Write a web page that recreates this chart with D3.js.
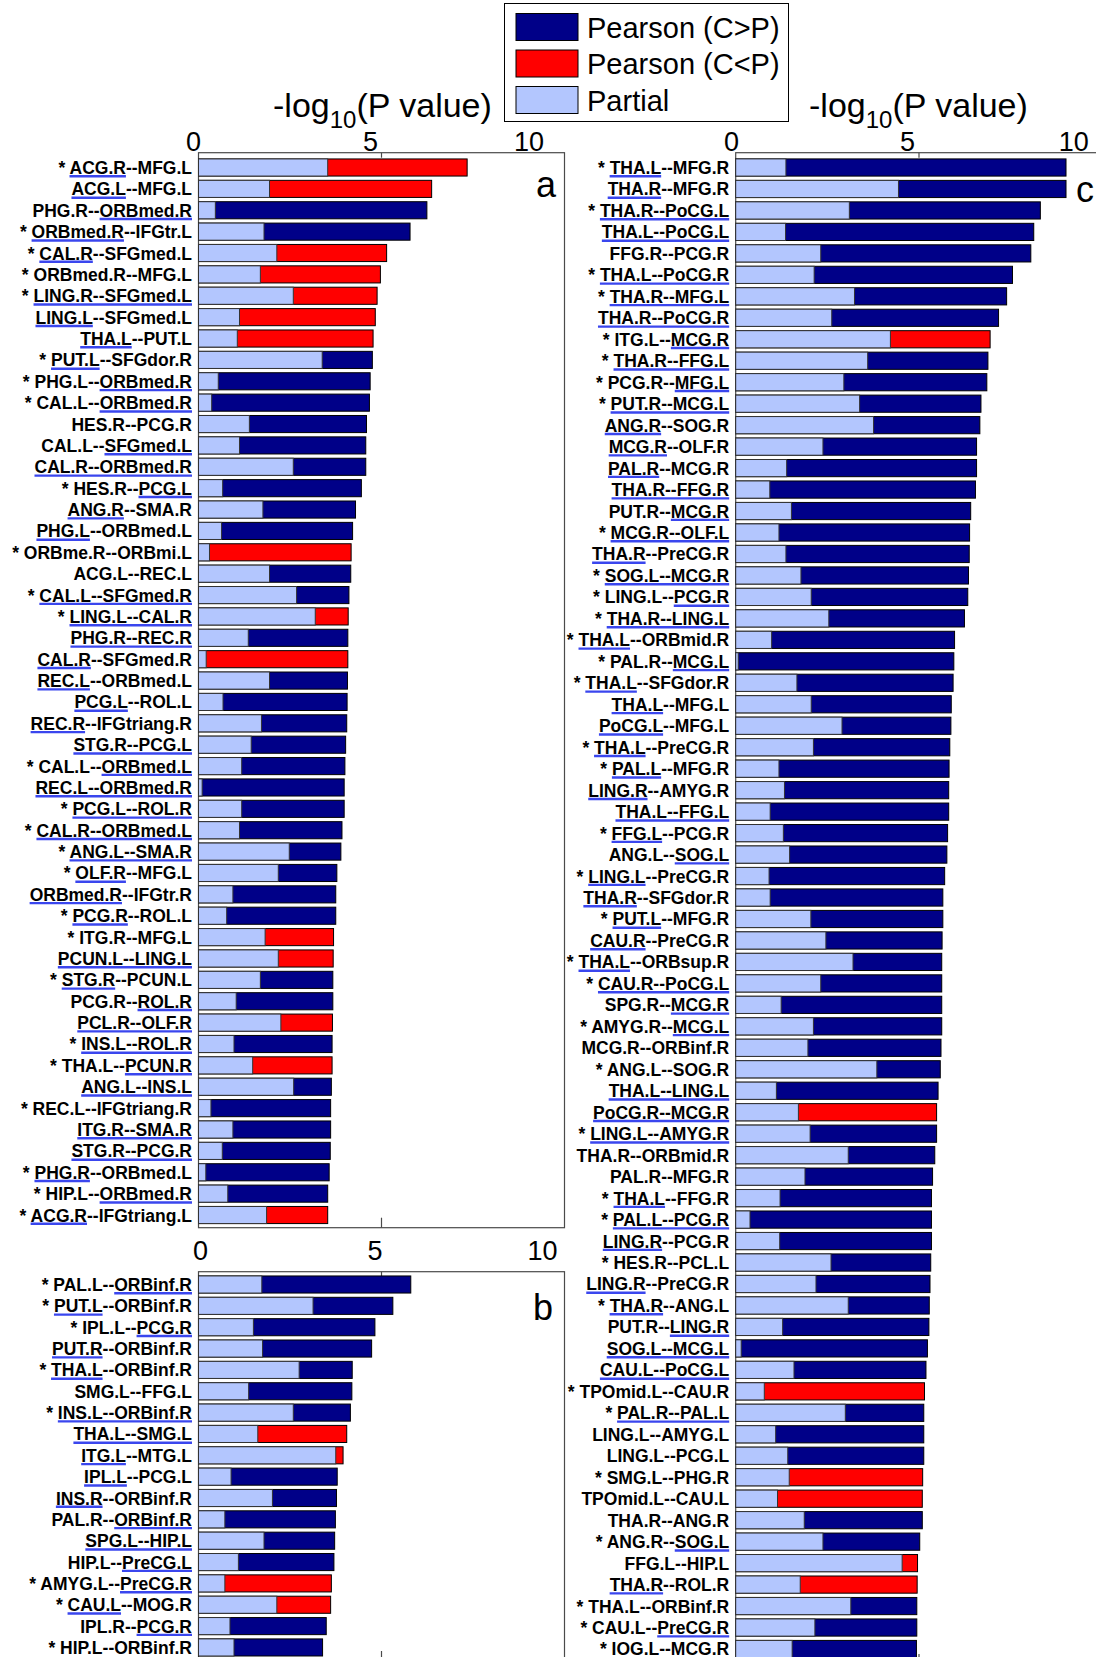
<!DOCTYPE html>
<html>
<head>
<meta charset="utf-8">
<script src="https://cdn.jsdelivr.net/npm/d3@7"></script>
<style>
  body { margin: 0; background: #fff; }
  svg { display: block; }
</style>
</head>
<body>
<svg id="chart" width="1096" height="1657"></svg>
<script>
// ---- Panel a: connections, -log10(P) for Pearson and partial correlation ----
// dir: 1 = Pearson (C>P), -1 = Pearson (C<P)
// under: 0 none, 1 first region, 2 second region, 3 whole pair
const aLabels = ["* ACG.R--MFG.L","ACG.L--MFG.L","PHG.R--ORBmed.R","* ORBmed.R--IFGtr.L","* CAL.R--SFGmed.L","* ORBmed.R--MFG.L","* LING.R--SFGmed.L","LING.L--SFGmed.L","THA.L--PUT.L","* PUT.L--SFGdor.R","* PHG.L--ORBmed.R","* CAL.L--ORBmed.R","HES.R--PCG.R","CAL.L--SFGmed.L","CAL.R--ORBmed.R","* HES.R--PCG.L","ANG.R--SMA.R","PHG.L--ORBmed.L","* ORBme.R--ORBmi.L","ACG.L--REC.L","* CAL.L--SFGmed.R","* LING.L--CAL.R","PHG.R--REC.R","CAL.R--SFGmed.R","REC.L--ORBmed.L","PCG.L--ROL.L","REC.R--IFGtriang.R","STG.R--PCG.L","* CAL.L--ORBmed.L","REC.L--ORBmed.R","* PCG.L--ROL.R","* CAL.R--ORBmed.L","* ANG.L--SMA.R","* OLF.R--MFG.L","ORBmed.R--IFGtr.R","* PCG.R--ROL.L","* ITG.R--MFG.L","PCUN.L--LING.L","* STG.R--PCUN.L","PCG.R--ROL.R","PCL.R--OLF.R","* INS.L--ROL.R","* THA.L--PCUN.R","ANG.L--INS.L","* REC.L--IFGtriang.R","ITG.R--SMA.R","STG.R--PCG.R","* PHG.R--ORBmed.L","* HIP.L--ORBmed.R","* ACG.R--IFGtriang.L"];
const aPearson = [7.34,6.37,6.24,5.78,5.14,4.97,4.88,4.83,4.77,4.75,4.69,4.67,4.59,4.57,4.57,4.45,4.29,4.21,4.17,4.16,4.11,4.09,4.08,4.08,4.07,4.06,4.05,4.02,4.00,3.98,3.98,3.92,3.89,3.78,3.75,3.75,3.69,3.68,3.67,3.67,3.66,3.65,3.65,3.63,3.61,3.61,3.60,3.57,3.53,3.53];
const aPartial = [3.53,1.94,0.46,1.79,2.14,1.69,2.59,1.12,1.06,3.38,0.54,0.36,1.39,1.12,2.59,0.66,1.76,0.63,0.30,1.94,2.68,3.19,1.36,0.21,1.94,0.67,1.72,1.44,1.18,0.10,1.18,1.12,2.48,2.18,0.94,0.77,1.82,2.18,1.69,1.03,2.25,0.97,1.48,2.60,0.34,0.94,0.65,0.20,0.80,1.86];
const aDir = [-1,-1,1,1,-1,-1,-1,-1,-1,1, 1,1,1,1,1,1,1,1,-1,1, 1,-1,1,-1,1,1,1,1,1,1, 1,1,1,1,1,1,-1,-1,1,1, -1,1,-1,1,1,1,1,1,1,-1];
const aUnder = [1,1,2,1,1,0,3,1,1,1, 2,2,0,2,3,2,1,1,0,0, 3,3,3,1,1,1,1,3,2,3, 3,3,3,1,1,1,0,3,1,2, 3,3,2,3,0,3,3,1,2,1];

// ---- Panel b ----
const bLabels = ["* PAL.L--ORBinf.R","* PUT.L--ORBinf.R","* IPL.L--PCG.R","PUT.R--ORBinf.R","* THA.L--ORBinf.R","SMG.L--FFG.L","* INS.L--ORBinf.R","THA.L--SMG.L","ITG.L--MTG.L","IPL.L--PCG.L","INS.R--ORBinf.R","PAL.R--ORBinf.R","SPG.L--HIP.L","HIP.L--PreCG.L","* AMYG.L--PreCG.R","* CAU.L--MOG.R","IPL.R--PCG.R","* HIP.L--ORBinf.R"];
const bPearson = [5.80,5.31,4.82,4.73,4.20,4.19,4.15,4.05,3.95,3.79,3.77,3.74,3.72,3.70,3.63,3.61,3.49,3.39];
const bPartial = [1.73,3.13,1.50,1.75,2.75,1.37,2.59,1.62,3.75,0.89,2.02,0.72,1.79,1.09,0.72,2.14,0.86,0.97];
const bDir = [1,1,1,1,1,1,1,-1,-1,1,1,1,1,1,-1,-1,1,1];
const bUnder = [2,1,2,1,1,0,3,3,1,1,1,2,3,2,2,1,2,0];

// ---- Panel c ----
const cLabels = ["* THA.L--MFG.R","THA.R--MFG.R","* THA.R--PoCG.L","THA.L--PoCG.L","FFG.R--PCG.R","* THA.L--PoCG.R","* THA.R--MFG.L","THA.R--PoCG.R","* ITG.L--MCG.R","* THA.R--FFG.L","* PCG.R--MFG.L","* PUT.R--MCG.L",
  "ANG.R--SOG.R","MCG.R--OLF.R","PAL.R--MCG.R","THA.R--FFG.R","PUT.R--MCG.R","* MCG.R--OLF.L","THA.R--PreCG.R","* SOG.L--MCG.R","* LING.L--PCG.R","* THA.R--LING.L","* THA.L--ORBmid.R","* PAL.R--MCG.L",
  "* THA.L--SFGdor.R","THA.L--MFG.L","PoCG.L--MFG.L","* THA.L--PreCG.R","* PAL.L--MFG.R","LING.R--AMYG.R","THA.L--FFG.L","* FFG.L--PCG.R","ANG.L--SOG.L","* LING.L--PreCG.R","THA.R--SFGdor.R","* PUT.L--MFG.R",
  "CAU.R--PreCG.R","* THA.L--ORBsup.R","* CAU.R--PoCG.L","SPG.R--MCG.R","* AMYG.R--MCG.L","MCG.R--ORBinf.R","* ANG.L--SOG.R","THA.L--LING.L","PoCG.R--MCG.R","* LING.L--AMYG.R","THA.R--ORBmid.R","PAL.R--MFG.R",
  "* THA.L--FFG.R","* PAL.L--PCG.R","LING.R--PCG.R","* HES.R--PCL.L","LING.R--PreCG.R","* THA.R--ANG.L","PUT.R--LING.R","SOG.L--MCG.L","CAU.L--PoCG.L","* TPOmid.L--CAU.R","* PAL.R--PAL.L","LING.L--AMYG.L",
  "LING.L--PCG.L","* SMG.L--PHG.R","TPOmid.L--CAU.L","THA.R--ANG.R","* ANG.R--SOG.L","FFG.L--HIP.L","THA.R--ROL.R","* THA.L--ORBinf.R","* CAU.L--PreCG.R","* IOG.L--MCG.R"];
const cPearson = [9.01,9.01,8.31,8.13,8.05,7.55,7.39,7.17,6.94,6.88,6.85,6.69,
  6.66,6.57,6.57,6.54,6.41,6.38,6.37,6.35,6.33,6.24,5.97,5.95,
  5.93,5.88,5.87,5.84,5.82,5.81,5.81,5.78,5.76,5.70,5.65,5.65,
  5.63,5.62,5.62,5.62,5.62,5.60,5.58,5.52,5.48,5.48,5.43,5.37,
  5.34,5.34,5.34,5.32,5.30,5.28,5.27,5.23,5.19,5.15,5.13,5.13,
  5.13,5.10,5.09,5.09,5.02,4.96,4.95,4.94,4.94,4.93];
const cPartial = [1.37,4.44,3.10,1.36,2.32,2.14,3.24,2.62,4.22,3.60,2.95,3.38,
  3.76,2.38,1.39,0.93,1.52,1.18,1.37,1.78,2.06,2.54,0.98,0.07,
  1.67,2.06,2.90,2.12,1.18,1.33,0.94,1.30,1.47,0.91,0.94,2.05,
  2.46,3.20,2.32,1.24,2.12,1.97,3.85,1.11,1.71,2.03,3.07,1.89,
  1.21,0.39,1.20,2.60,2.19,3.07,1.28,0.15,1.59,0.78,2.99,1.09,
  1.42,1.46,1.14,1.87,2.38,4.54,1.76,3.14,2.16,1.54];
const cDir = [1,1,1,1,1,1,1,1,-1,1,1,1,
  1,1,1,1,1,1,1,1,1,1,1,1,
  1,1,1,1,1,1,1,1,1,1,1,1,
  1,1,1,1,1,1,1,1,-1,1,1,1,
  1,1,1,1,1,1,1,1,1,-1,1,1,
  1,-1,-1,1,1,-1,-1,1,1,1];
const cUnder = [1,1,3,3,0,3,3,3,2,3,2,3,
  1,1,1,3,2,3,1,3,2,3,1,2,
  1,1,1,1,1,1,3,1,2,1,1,1,
  1,1,3,2,2,0,0,3,3,3,0,0,
  1,3,1,0,1,1,2,3,3,0,3,0,
  0,0,0,0,2,0,1,0,2,0];

const xTicks = [0, 5, 10];
const legendItems = ["Pearson (C>P)", "Pearson (C<P)", "Partial"];

// ---- styling ----
const FONT = "'Liberation Sans', Arial, Helvetica, sans-serif";
const COLORS = { pos: "#000088", neg: "#ff0000", partial: "#b3c6fe", mark: "#3a46ee" };

const svg = d3.select("#chart");
svg.append("rect").attr("width", 1096).attr("height", 1657).attr("fill", "#fff");

function drawPanel(cfg) {
  const n = cfg.labels.length;
  const x = d3.scaleLinear().domain([0, 10]).range([cfg.x0, cfg.x1]);
  const y = d3.scaleBand()
    .domain(d3.range(n))
    .range([cfg.firstCenter - cfg.step / 2, cfg.firstCenter - cfg.step / 2 + n * cfg.step])
    .paddingInner(0.2).paddingOuter(0.1);

  const rows = d3.range(n).map(i => ({
    i, label: cfg.labels[i], pearson: cfg.pearson[i], partial: cfg.partial[i],
    dir: cfg.dir[i], under: cfg.under[i]
  }));

  const g = svg.append("g");

  // axes frame
  g.append("rect")
    .attr("x", x(0)).attr("y", cfg.top)
    .attr("width", x(10) - x(0)).attr("height", cfg.bottom - cfg.top)
    .attr("fill", "none").attr("stroke", "#4a4a4a").attr("stroke-width", 1.2);
  g.append("line").attr("x1", x(5)).attr("x2", x(5))
    .attr("y1", cfg.top).attr("y2", cfg.top + 5)
    .attr("stroke", "#4a4a4a").attr("stroke-width", 1.2);
  g.append("line").attr("x1", x(5)).attr("x2", x(5))
    .attr("y1", cfg.bottom).attr("y2", cfg.bottom - 10)
    .attr("stroke", "#4a4a4a").attr("stroke-width", 1.2);

  // Pearson bars (full length), then partial bars overlaid from zero
  g.selectAll("rect.pearson").data(rows).join("rect")
    .attr("class", "pearson")
    .attr("x", x(0)).attr("y", d => y(d.i))
    .attr("width", d => x(d.pearson) - x(0)).attr("height", y.bandwidth())
    .attr("fill", d => d.dir > 0 ? COLORS.pos : COLORS.neg)
    .attr("stroke", "#000").attr("stroke-width", 1);
  g.selectAll("rect.partial").data(rows).join("rect")
    .attr("class", "partial")
    .attr("x", x(0)).attr("y", d => y(d.i))
    .attr("width", d => x(d.partial) - x(0)).attr("height", y.bandwidth())
    .attr("fill", COLORS.partial)
    .attr("stroke", "#333").attr("stroke-width", 1);

  // row labels
  const labels = g.selectAll("text.rowlab").data(rows).join("text")
    .attr("class", "rowlab")
    .attr("x", x(0) - 6.5)
    .attr("y", d => y(d.i) + y.bandwidth() / 2 + 6.5)
    .attr("text-anchor", "end")
    .style("font", `bold 17.5px ${FONT}`)
    .attr("fill", "#000")
    .text(d => d.label);

  // blue underline marks under the highlighted region names
  labels.each(function (d) {
    if (!d.under) return;
    const s = d.label;
    const off = s.startsWith("* ") ? 2 : 0;
    const sep = s.indexOf("--");
    let a, b;
    if (d.under === 1) { a = off; b = sep; }
    else if (d.under === 2) { a = sep + 2; b = s.length; }
    else { a = off; b = s.length; }
    const xa = this.getStartPositionOfChar(a).x;
    const xb = this.getEndPositionOfChar(b - 1).x;
    const yy = y(d.i) + y.bandwidth() / 2 + 8.8;
    g.append("line")
      .attr("x1", xa).attr("x2", xb).attr("y1", yy).attr("y2", yy)
      .attr("stroke", COLORS.mark).attr("stroke-width", 2.4);
  });

  // panel letter
  g.append("text")
    .attr("x", cfg.letterX).attr("y", cfg.letterY)
    .attr("text-anchor", "middle")
    .style("font", `36px ${FONT}`)
    .text(cfg.letter);

  return x;
}

function tickLabels(x, baseline, dxs) {
  const ax = svg.append("g")
    .attr("transform", `translate(0,${baseline})`)
    .call(d3.axisTop(x).tickValues(xTicks).tickSize(0).tickPadding(0).tickFormat(d3.format("d")));
  ax.select(".domain").remove();
  ax.selectAll("text")
    .attr("dy", 0)
    .attr("dx", (d, i) => dxs[i])
    .attr("fill", "#000")
    .style("font", `27px ${FONT}`);
}

function axisTitle(xStart, baseline) {
  const t = svg.append("text")
    .attr("x", xStart).attr("y", baseline)
    .style("font", `34px ${FONT}`).attr("fill", "#000");
  t.append("tspan").text("-log");
  t.append("tspan").attr("dy", 11).style("font-size", "24px").text("10");
  t.append("tspan").attr("dy", -11).text("(P value)");
}

const xa = drawPanel({
  labels: aLabels, pearson: aPearson, partial: aPartial, dir: aDir, under: aUnder,
  x0: 198.5, x1: 564.5, top: 152.7, bottom: 1227.7, firstCenter: 167.5, step: 21.378,
  letter: "a", letterX: 546, letterY: 197
});
const xb = drawPanel({
  labels: bLabels, pearson: bPearson, partial: bPartial, dir: bDir, under: bUnder,
  x0: 198.5, x1: 564.5, top: 1271.7, bottom: 1661, firstCenter: 1284.5, step: 21.35,
  letter: "b", letterX: 543, letterY: 1320
});
const xc = drawPanel({
  labels: cLabels, pearson: cPearson, partial: cPartial, dir: cDir, under: cUnder,
  x0: 735.7, x1: 1102.3, top: 152.7, bottom: 1664, firstCenter: 167.5, step: 21.471,
  letter: "c", letterX: 1085, letterY: 202
});

tickLabels(xa, 151, [-5.5, -11.5, -36]);
tickLabels(xc, 151, [-4.7, -12, -29]);
tickLabels(xb, 1260, [1.5, -7, -22.5]);

axisTitle(273, 117);
axisTitle(809, 117);

// legend
const legend = svg.append("g");
legend.append("rect")
  .attr("x", 504.5).attr("y", 3.5).attr("width", 284).attr("height", 118)
  .attr("fill", "#fff").attr("stroke", "#000").attr("stroke-width", 1);
const legendFill = [COLORS.pos, COLORS.neg, COLORS.partial];
const ly = d3.scalePoint().domain(legendItems).range([27, 100]);
legend.selectAll("rect.sw").data(legendItems).join("rect")
  .attr("class", "sw")
  .attr("x", 516).attr("y", d => ly(d) - 13.5)
  .attr("width", 62).attr("height", 27)
  .attr("fill", (d, i) => legendFill[i])
  .attr("stroke", "#000").attr("stroke-width", 1);
legend.selectAll("text").data(legendItems).join("text")
  .attr("x", 587).attr("y", d => ly(d) + 10.5)
  .style("font", `29px ${FONT}`)
  .attr("fill", "#000")
  .text(d => d);
</script>
</body>
</html>
